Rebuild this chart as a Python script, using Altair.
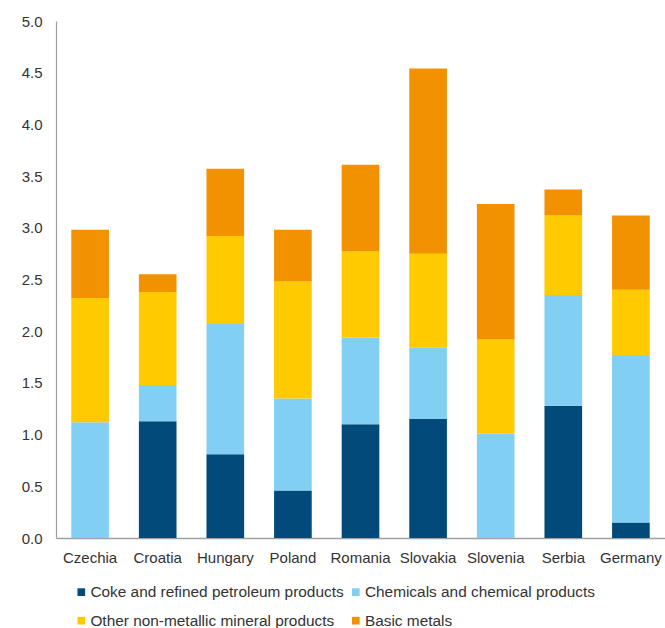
import altair as alt
import pandas as pd

countries = ["Czechia", "Croatia", "Hungary", "Poland", "Romania", "Slovakia", "Slovenia", "Serbia", "Germany"]
series = ["Coke and refined petroleum products", "Chemicals and chemical products",
          "Other non-metallic mineral products", "Basic metals"]
coke = [0.00, 1.13, 0.81, 0.46, 1.10, 1.15, 0.00, 1.28, 0.15]
chem = [1.12, 0.35, 1.26, 0.89, 0.84, 0.69, 1.01, 1.07, 1.62]
other = [1.20, 0.90, 0.85, 1.13, 0.83, 0.91, 0.91, 0.77, 0.63]
basic = [0.66, 0.17, 0.65, 0.50, 0.84, 1.79, 1.31, 0.25, 0.72]
colors = ["#014A7A", "#82CFF4", "#FFCA00", "#F29200"]
y_ticks = [0, 0.5, 1.0, 1.5, 2.0, 2.5, 3.0, 3.5, 4.0, 4.5, 5.0]

rows = []
for idx, (name, vals) in enumerate(zip(series, [coke, chem, other, basic])):
    for c, v in zip(countries, vals):
        rows.append({"country": c, "series": name, "value": v, "idx": idx})
df = pd.DataFrame(rows)

FONT = "Liberation Sans"
TXT = "#333333"
AX = "#A0A0A0"

chart = alt.Chart(df).mark_bar().encode(
    x=alt.X("country:N", sort=countries, title=None,
            scale=alt.Scale(paddingInner=0.443, paddingOuter=0.226),
            axis=alt.Axis(labelAngle=0, ticks=False, tickSize=0, domainColor=AX, domainWidth=1.5,
                          labelPadding=12, labelFontSize=15, labelColor=TXT, labelFont=FONT)),
    y=alt.Y("value:Q", stack="zero", title=None,
            scale=alt.Scale(domain=[0, 5], nice=False),
            axis=alt.Axis(values=y_ticks, format=".1f", grid=False, ticks=False, tickSize=0,
                          domainColor=AX, domainWidth=1.2, labelPadding=14,
                          labelFontSize=15, labelColor=TXT, labelFont=FONT)),
    color=alt.Color("series:N", sort=series,
                    scale=alt.Scale(domain=series, range=colors),
                    legend=alt.Legend(title=None, orient="none", legendX=17.6, legendY=563,
                                      direction="horizontal", columns=2, padding=0,
                                      symbolType="square", symbolSize=59, symbolStrokeWidth=0,
                                      labelOffset=1.4, labelFontSize=15.4, labelColor=TXT,
                                      labelFont=FONT, rowPadding=12, columnPadding=3.5,
                                      labelLimit=400)),
    order=alt.Order("idx:Q", sort="ascending"),
).properties(
    width=609, height=517,
    background="white",
    autosize=alt.AutoSizeParams(type="none"),
    padding={"left": 56, "top": 21, "right": 0, "bottom": 90},
).configure_view(stroke=None)

chart.save("out.html", embed_options={"renderer": "svg", "actions": False})
